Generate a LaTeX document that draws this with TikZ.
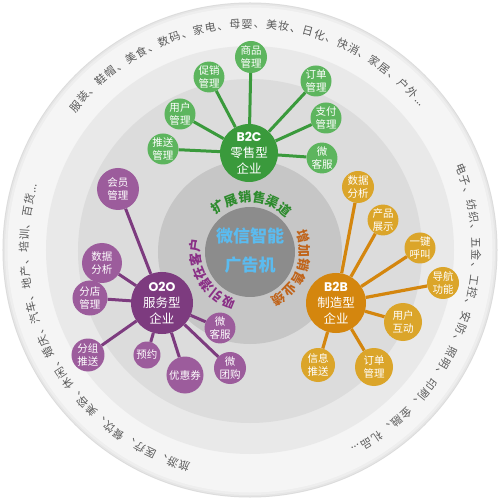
\documentclass[tikz,border=0pt]{standalone}
\usepackage{fontspec}
\setmainfont{Noto Sans CJK SC}
\newfontfamily\lat{Poppins}
\usetikzlibrary{decorations.text,calc}
\definecolor{rimc}{HTML}{DCDCDC}
\definecolor{rimd}{HTML}{E6E6E6}
\definecolor{rime}{HTML}{EEEEEE}
\definecolor{bandc}{HTML}{F5F5F5}
\definecolor{bandd}{HTML}{E9E9E9}
\definecolor{discc}{HTML}{DCDCDC}
\definecolor{ringc}{HTML}{C6C6C6}
\definecolor{corec}{HTML}{8C8C8C}
\definecolor{gmain}{HTML}{3A9A3C}
\definecolor{gsat}{HTML}{5DB55E}
\definecolor{omain}{HTML}{D4860E}
\definecolor{osat}{HTML}{DBA52A}
\definecolor{pmain}{HTML}{7D3B7F}
\definecolor{psat}{HTML}{9C5C9C}
\definecolor{bluet}{HTML}{5BBBEF}
\definecolor{greent}{HTML}{2E8B2E}
\definecolor{oranget}{HTML}{C0641A}
\definecolor{purplet}{HTML}{8A2F86}
\definecolor{outt}{HTML}{5A5A5A}
\tikzset{
  hub/.style={circle, inner sep=0pt, text=white, align=center, font=\fontsize{12.5}{16}\selectfont},
  sat/.style={circle, inner sep=0pt, text=white, align=center, font=\fontsize{10.5}{13}\selectfont},
  gh/.style={hub, fill=gmain}, gs/.style={sat, fill=gsat}, gl/.style={draw=gmain, line width=3pt},
  oh/.style={hub, fill=omain}, os/.style={sat, fill=osat}, ol/.style={draw=omain, line width=3.2pt},
  ph/.style={hub, fill=pmain}, ps/.style={sat, fill=psat}, pl/.style={draw=pmain, line width=3pt},
}
\begin{document}
\begin{tikzpicture}[x=1pt,y=1pt]
\useasboundingbox (-250,-250) rectangle (250,250);
\fill[white] (-250,-250) rectangle (250,250);
% rings
\fill[rimc] (0,0) circle (247.5);
\fill[rimd] (0,0) circle (246.5);
\fill[rime] (0,0) circle (245);
\fill[bandc] (0,0) circle (242.5);
\fill[bandd] (0,0) circle (204);
\fill[discc] (0,-1) circle (172);
\fill[ringc] (0,-2) circle (92);
\fill[corec] (0,-2) circle (45);
% outer ring texts
\path[decorate, decoration={text along path, text align={fit to path}, text color=outt,
  text={|\fontsize{11}{11}\selectfont|服装、鞋帽、美食、数码、家电、母婴、美妆、日化、快消、家居、户外{...}}}]
  (142:222) arc[start angle=142, end angle=40, radius=222];
\path[decorate, decoration={text along path, text align={fit to path}, text color=outt,
  text={|\fontsize{11}{11}\selectfont|电子、纺织、五金、工控、安防、照明、印刷、金融、礼品{...}}}]
  (22.5:222) arc[start angle=22.5, end angle=-63, radius=222];
\path[decorate, decoration={text along path, text align={fit to path}, text color=outt,
  text={|\fontsize{11}{11}\selectfont|旅游、医疗、餐饮、美容、休闲、婚庆、汽车、地产、培训、百货{...}}}]
  (254.5:222) arc[start angle=254.5, end angle=163, radius=222];
% inner curved texts
\path[decorate, decoration={text along path, text align={center}, text color=greent,
  text={|\bfseries\fontsize{13}{13}\selectfont|扩展销售渠道}}]
  ($(0,-2)+(150:50)$) arc[start angle=150, end angle=26, radius=50];
\path[decorate, decoration={text along path, text align={center}, text color=oranget,
  text={|\bfseries\fontsize{13}{13}\selectfont|增加销售业绩}}]
  ($(0,-2)+(41:50)$) arc[start angle=41, end angle=-83, radius=50];
\path[decorate, decoration={text along path, text align={center}, text color=purplet,
  text={|\bfseries\fontsize{13}{13}\selectfont|吸引潜在客户}}]
  ($(0,-2)+(272:50)$) arc[start angle=272, end angle=148, radius=50];
% center
\node[text=bluet, align=center, font=\bfseries\fontsize{17}{29}\selectfont] (core) at (0,-1) {微信智能\\广告机};
% B2C
\node[gh, minimum size=58pt] (b2c) at (-1,97) {{\lat\bfseries B2C}\\零售型\\企业};
\node[gs, minimum size=32pt] (g1) at (1,193) {商品\\管理};
\node[gs, minimum size=30pt] (g2) at (-41,173) {促销\\管理};
\node[gs, minimum size=31pt] (g3) at (-70,136) {用户\\管理};
\node[gs, minimum size=31pt] (g4) at (-87,101) {推送\\管理};
\node[gs, minimum size=31pt] (g5) at (66,169) {订单\\管理};
\node[gs, minimum size=31pt] (g6) at (76,132) {支付\\管理};
\node[gs, minimum size=28pt] (g7) at (72,92) {微\\客服};
\foreach \n in {g1,g2,g3,g4,g5,g6,g7} \draw[gl] (b2c) -- (\n);
% B2B
\node[oh, minimum size=60pt] (b2b) at (86,-53) {{\lat\bfseries B2B}\\制造型\\企业};
\node[os, minimum size=32pt] (o1) at (108,63) {数据\\分析};
\node[os, minimum size=29pt] (o2) at (133,30) {产品\\展示};
\node[os, minimum size=31pt] (o3) at (170,2) {一键\\呼叫};
\node[os, minimum size=32pt] (o4) at (193,-33) {导航\\功能};
\node[os, minimum size=38pt] (o5) at (153,-72) {用户\\互动};
\node[os, minimum size=38pt] (o6) at (124,-117) {订单\\管理};
\node[os, minimum size=34pt] (o7) at (68,-115) {信息\\推送};
\foreach \n in {o1,o2,o3,o4,o5,o6,o7} \draw[ol] (b2b) -- (\n);
% O2O
\node[ph, minimum size=62pt] (o2o) at (-88,-53) {{\lat\bfseries O2O}\\服务型\\企业};
\node[ps, minimum size=42pt] (p1) at (-132,61) {会员\\管理};
\node[ps, minimum size=40pt] (p2) at (-148,-13) {数据\\分析};
\node[ps, minimum size=35pt] (p3) at (-160,-48) {分店\\管理};
\node[ps, minimum size=33pt] (p4) at (-162,-105) {分组\\推送};
\node[ps, minimum size=27pt] (p5) at (-103,-105) {预约};
\node[ps, minimum size=37pt] (p6) at (-65,-125) {优惠券};
\node[ps, minimum size=32pt] (p7) at (-20,-118) {微\\团购};
\node[ps, minimum size=29pt] (p8) at (-30,-78) {微\\客服};
\foreach \n in {p1,p2,p3,p4,p5,p6,p7,p8} \draw[pl] (o2o) -- (\n);
\end{tikzpicture}
\end{document}
